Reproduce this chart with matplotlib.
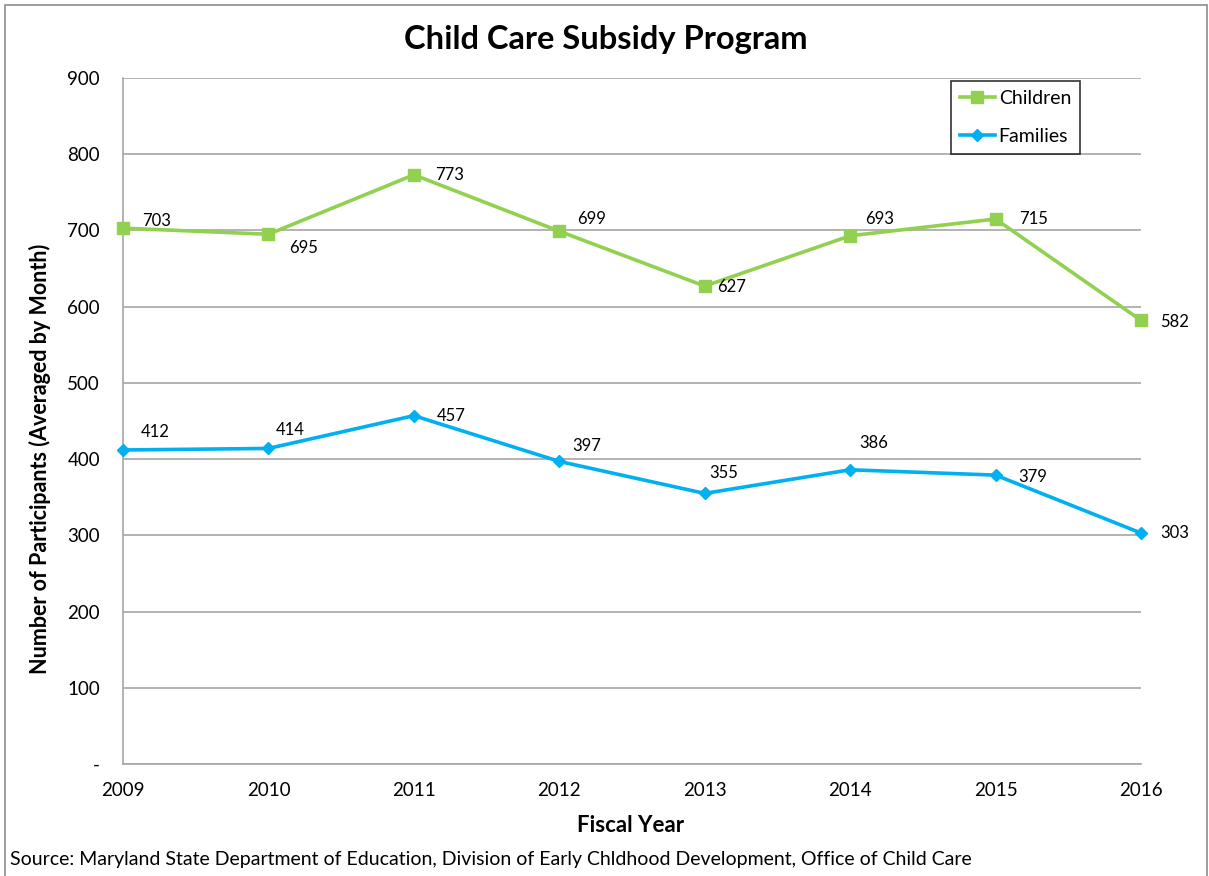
import matplotlib.pyplot as plt
from matplotlib.patches import Rectangle

years = [2009, 2010, 2011, 2012, 2013, 2014, 2015, 2016]
children = [703, 695, 773, 699, 627, 693, 715, 582]
families = [412, 414, 457, 397, 355, 386, 379, 303]

# label offsets in points (dx, dy) per point
child_off = [(24, 5), (25, -10), (26, 0), (23, 9), (19, -1), (21, 12), (27, 0), (24, -1)]
fam_off = [(23, 13), (16, 13), (27, 0), (20, 11), (14, 15), (17, 19), (27, -1), (24, 0)]

plt.rcParams['font.family'] = ['Lato', 'DejaVu Sans']

fig = plt.figure(figsize=(12.09, 8.76), dpi=100)
ax = fig.add_axes([123 / 1209, 1 - 764 / 876, (1141 - 123) / 1209, (764 - 78) / 876])

green = '#92D050'
blue = '#00B0F0'

ax.plot(years, children, color=green, lw=2.6, marker='s', markersize=8.5,
        label='Children', clip_on=False, zorder=3)
ax.plot(years, families, color=blue, lw=2.6, marker='D', markersize=6.5,
        label='Families', clip_on=False, zorder=3)

for x, y, off in zip(years, children, child_off):
    ax.annotate(str(y), (x, y), xytext=off, textcoords='offset points',
                ha='center', va='center', fontsize=12, color='black')
for x, y, off in zip(years, families, fam_off):
    ax.annotate(str(y), (x, y), xytext=off, textcoords='offset points',
                ha='center', va='center', fontsize=12, color='black')

ax.set_xlim(2009, 2016)
ax.set_ylim(0, 900)
ax.set_yticks(range(0, 901, 100))
ax.set_yticklabels(['-'] + [str(v) for v in range(100, 901, 100)])
ax.set_xticks(years)
ax.set_xticklabels([str(y) for y in years])
ax.tick_params(axis='both', length=0, labelsize=13.5)
ax.tick_params(axis='y', pad=16.5)
ax.tick_params(axis='x', pad=13)
ax.grid(axis='y', color='#A6A6A6', lw=1.2)
ax.set_axisbelow(True)
for s in ['top', 'right']:
    ax.spines[s].set_visible(False)
for s in ['left', 'bottom']:
    ax.spines[s].set_color('#A6A6A6')
    ax.spines[s].set_linewidth(1.2)

fig.text(631 / 1209, 1 - 825 / 876, 'Fiscal Year', ha='center', va='center',
         fontsize=16, fontweight='bold')
fig.text(40 / 1209, 1 - 459 / 876, 'Number of Participants (Averaged by Month)',
         ha='center', va='center', rotation=90, fontsize=15.5, fontweight='bold')

fig.text(606 / 1209, 1 - 40 / 876, 'Child Care Subsidy Program', ha='center',
         va='center', fontsize=23.5, fontweight='bold')
fig.text(10 / 1209, 1 - 860 / 876,
         'Source: Maryland State Department of Education, Division of Early Chldhood Development, Office of Child Care',
         ha='left', va='center', fontsize=14)

leg = ax.legend(loc='upper left', bbox_to_anchor=(951 / 1209, 1 - 81 / 876),
                bbox_transform=fig.transFigure, frameon=True, fancybox=False,
                fontsize=14, handlelength=1.8, borderpad=0.45, labelspacing=1.1,
                handletextpad=0.2, borderaxespad=0)
leg.get_frame().set_edgecolor('black')
leg.get_frame().set_linewidth(1.2)

fig.patches.append(Rectangle((5 / 1209, -0.01), 1202 / 1209, 1 - 5 / 876 + 0.01,
                             transform=fig.transFigure, fill=False,
                             edgecolor='#8C8C8C', lw=1.2))

fig.savefig('out.png', dpi=100, facecolor='white')
